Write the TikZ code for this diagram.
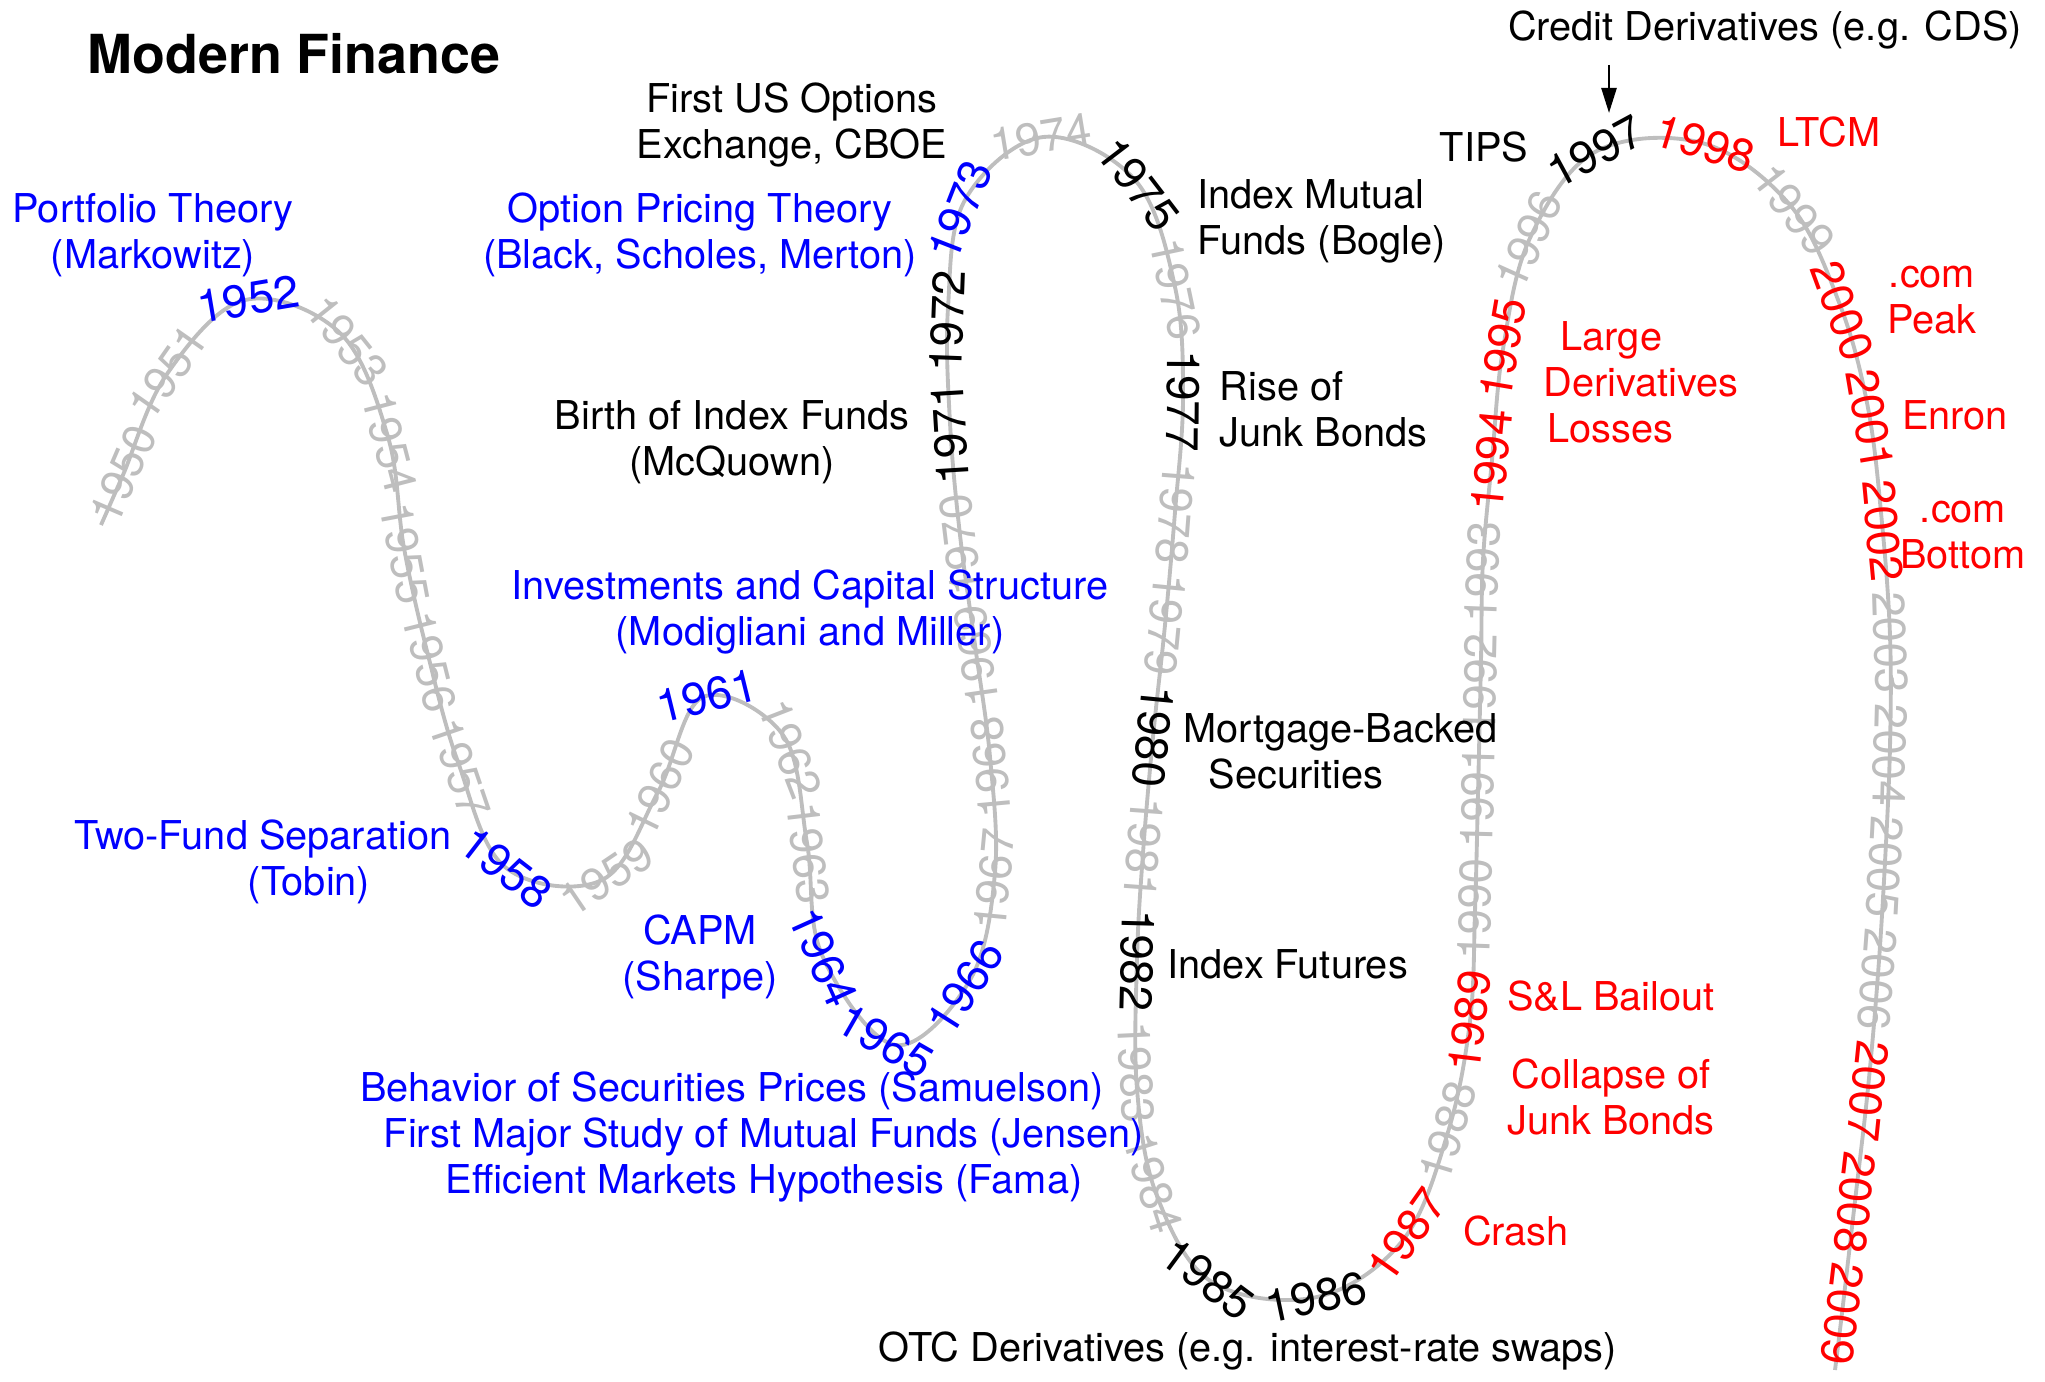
\documentclass[tikz,border=0pt]{standalone}
\usepackage{fontspec}
\setmainfont{TeX Gyre Heros}
\usetikzlibrary{decorations.markings,arrows.meta}
\definecolor{yearGray}{RGB}{190,190,190}
\newcommand{\eventFont}[0]{\fontsize{11.3}{13.1}\selectfont}
\newcommand{\yearFont}[0]{\fontsize{13}{15}\selectfont}
\newcommand{\titleFont}[0]{\fontsize{15.3}{18}\selectfont\bfseries}
\newcommand{\curveWidth}[0]{1.1pt}

\begin{document}
\begin{tikzpicture}[x=0.01cm, y=-0.01cm]
  \tikzset{
    event/.style={font=\eventFont, align=center, inner sep=0pt},
    year/.style={font=\yearFont, text=yearGray, inner sep=0pt, transform shape},
    blueyr/.style={text=blue}, blackyr/.style={text=black}, redyr/.style={text=red},
    yr1952/.style=blueyr, yr1958/.style=blueyr, yr1961/.style=blueyr, yr1964/.style=blueyr,
    yr1965/.style=blueyr, yr1966/.style=blueyr, yr1973/.style=blueyr,
    yr1971/.style=blackyr, yr1972/.style=blackyr, yr1975/.style=blackyr, yr1977/.style=blackyr,
    yr1980/.style=blackyr, yr1982/.style=blackyr, yr1985/.style=blackyr, yr1986/.style=blackyr,
    yr1997/.style=blackyr,
    yr1987/.style=redyr, yr1989/.style=redyr, yr1994/.style=redyr, yr1995/.style=redyr,
    yr1998/.style=redyr, yr2000/.style=redyr, yr2001/.style=redyr, yr2002/.style=redyr,
    yr2007/.style=redyr, yr2008/.style=redyr, yr2009/.style=redyr,
    /pgf/decoration/yearmark/.style={mark=at position
      {(#1-1949.5-0.4*max(0,min((#1-1958)/8,(2009.5-#1)/43.5)))/60}
      with {\node[year, yr#1/.try] (y#1) {#1};}}
  }
  \useasboundingbox (0,0) rectangle (2045,1382);

  \draw[yearGray, line width=\curveWidth, postaction={decorate},
      decoration={markings, yearmark/.list={1950,...,2009}}]
    plot[smooth, tension=0.6] coordinates {
      (101,525) (123,475) (167,374) (245,300) (340,333) (388,437) (404,548) (428,655)
      (458,762) (505,867) (602,880) (658,792) (703,697) (783,735) (807,843) (822,955)
      (895,1045) (970,980) (995,872) (990,757) (975,645) (960,535) (950,423) (948,308)
      (965,200) (1043,137) (1135,180) (1175,287) (1183,398) (1175,512) (1165,625) (1153,737)
      (1143,853) (1137,959) (1137,1089) (1157,1196) (1212,1282) (1317,1297) (1403,1240) (1448,1132)
      (1470,1021) (1475,911) (1478,794) (1481,660) (1483,560) (1492,460) (1503,349) (1530,238)
      (1595,152) (1702,143) (1790,205) (1840,305) (1868,408) (1882,523) (1890,636) (1890,746)
      (1885,862) (1878,974) (1868,1088) (1855,1201) (1842,1313) (1835,1370)};

  \node[font=\titleFont, inner sep=0pt] (title) at (294,54) {Modern Finance};

  \node[event, blue] (markowitz) at (153,235) {Portfolio Theory\\(Markowitz)};
  \node[event, blue] (tobin) at (263,862) {Two-Fund Separation\\\hspace*{0.92cm}(Tobin)};
  \node[event, blue] (modigliani) at (810,612) {Investments and Capital Structure\\(Modigliani and Miller)};
  \node[event, blue] (sharpe) at (700,957) {CAPM\\(Sharpe)};
  \node[event, blue] (samuelson) at (764,1137) {Behavior of Securities Prices (Samuelson)\hspace*{0.64cm}\\First Major Study of Mutual Funds (Jensen)\\Efficient Markets Hypothesis (Fama)};
  \node[event, blue] (bsm) at (700,235) {Option Pricing Theory\\(Black, Scholes, Merton)};

  \node[event] (cboe) at (792,125) {First US Options\\Exchange, CBOE};
  \node[event] (mcquown) at (732,442) {Birth of Index Funds\\(McQuown)};
  \node[event, align=left, anchor=west] (bogle) at (1197,221) {Index Mutual\\Funds (Bogle)};
  \node[event, align=left, anchor=west] (junk) at (1219,409) {Rise of\\Junk Bonds};
  \node[event, align=left, anchor=west] (mbs) at (1183,751) {Mortgage-Backed\\\hspace*{0.25cm}Securities};
  \node[event, anchor=west] (futures) at (1167,964) {Index Futures};
  \node[event] (otc) at (1248,1351) {OTC Derivatives (e.g. interest-rate swaps)};
  \node[event] (tips) at (1484,147) {TIPS};
  \node[event] (cds) at (1765,30) {Credit Derivatives (e.g. CDS)};

  \node[event, red, align=left, anchor=west] (losses) at (1543,382) {\hspace*{0.17cm}Large\\Derivatives\\\hspace*{0.04cm}Losses};
  \node[event, red] (ltcm) at (1829,132) {LTCM};
  \node[event, red] (peak) at (1932,300) {.com\\Peak};
  \node[event, red] (enron) at (1955,415) {Enron};
  \node[event, red] (bottom) at (1963,535) {.com\\Bottom};
  \node[event, red] (bailout) at (1611,996) {S\&L Bailout};
  \node[event, red] (collapse) at (1611,1097) {Collapse of\\Junk Bonds};
  \node[event, red] (crash) at (1516,1231) {Crash};

  \coordinate (cdsTail) at (1609,65);
  \coordinate (cdsHead) at (1609,113);
  \draw[line width=0.7pt, -{Triangle[length=0.25cm, width=0.15cm]}] (cdsTail) -- (cdsHead);
\end{tikzpicture}
\end{document}
